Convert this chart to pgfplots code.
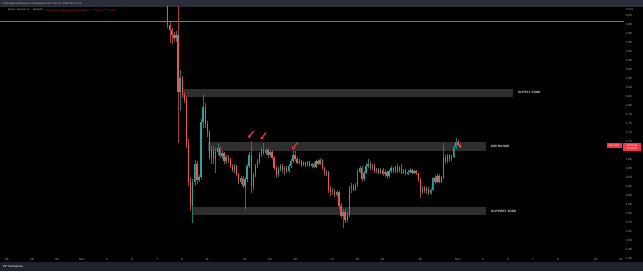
\documentclass[border=0pt]{standalone}
\usepackage{pgfplots}
\pgfplotsset{compat=1.18}
\usepackage{pgfplotstable}
\usepackage{fontspec}
\setmainfont{Liberation Sans}
\usetikzlibrary{arrows.meta}
\definecolor{upc}{HTML}{26A69A}
\definecolor{dnc}{HTML}{EF5350}
\definecolor{upw}{HTML}{1D7A71}
\definecolor{dnw}{HTML}{A53E3C}
\definecolor{zone}{HTML}{2E2E2E}
\definecolor{axtxt}{HTML}{B2B5BE}
\definecolor{hdr}{HTML}{2A2E39}
\definecolor{ftr}{HTML}{1E222D}
\definecolor{tagred}{HTML}{F23645}
\definecolor{hline}{HTML}{787B86}

\pgfplotstableread{
t O H L C
7.833 20250 20400 19720 19780
8.000 19780 19840 19380 19670
8.167 19670 19720 19350 19560
8.333 19560 19620 19420 19490
8.500 19490 19650 19400 19560
8.667 19560 20700 17160 18290
8.833 18290 18780 17860 18600
9.000 18600 18650 18150 18220
9.167 18220 18300 18050 18110
9.333 18110 18200 17050 17110
9.500 17110 17250 16200 16290
9.667 16290 16400 15650 15760
9.833 15760 16350 15380 16290
10.000 16290 16780 16200 16700
10.167 16700 16760 16250 16330
10.333 16330 16450 16280 16400
10.500 16400 17700 16350 17620
10.667 17620 18240 17500 17960
10.833 17960 18050 17500 17580
11.000 17580 17650 17300 17400
11.167 17400 17450 16800 16850
11.333 16850 17100 16700 17000
11.500 17000 17100 16700 16800
11.667 16800 17050 16500 16950
11.833 16950 17150 16900 17050
12.000 17050 17100 16820 16870
12.167 16870 16980 16800 16930
12.333 16930 16960 16700 16760
12.500 16760 16900 16700 16850
12.667 16850 16880 16720 16780
12.833 16780 16830 16600 16650
13.000 16650 16700 16520 16560
13.167 16560 16700 16500 16640
13.333 16640 16660 16420 16460
13.500 16460 16500 16250 16300
13.667 16300 16420 16240 16380
13.833 16380 16420 16150 16200
14.000 16200 16400 15670 16350
14.167 16350 16700 16300 16650
14.333 16650 16950 16600 16900
14.500 16900 17190 16050 16200
14.667 16200 16500 16120 16450
14.833 16450 16700 16400 16650
15.000 16650 16800 16600 16760
15.167 16760 16950 16700 16920
15.333 16920 17050 16850 17000
15.500 17000 17160 16880 16930
15.667 16930 17050 16880 17010
15.833 17010 17050 16820 16880
16.000 16880 17000 16850 16960
16.167 16960 16990 16800 16830
16.333 16830 16860 16550 16600
16.500 16600 16650 16380 16440
16.667 16440 16620 16400 16580
16.833 16580 16700 16540 16650
17.000 16650 16700 16500 16560
17.167 16560 16640 16450 16600
17.333 16600 16650 16480 16540
17.500 16540 16680 16500 16640
17.667 16640 16800 16600 16760
17.833 16760 17000 16720 16900
18.000 16900 16980 16750 16800
18.167 16800 16840 16680 16720
18.333 16720 16800 16680 16760
18.500 16760 16780 16620 16660
18.667 16660 16760 16640 16720
18.833 16720 16740 16620 16680
19.000 16680 16760 16640 16730
19.167 16730 16760 16620 16650
19.333 16650 16720 16600 16700
19.500 16700 16740 16600 16630
19.667 16630 16780 16610 16750
19.833 16750 16800 16660 16700
20.000 16700 16820 16660 16770
20.167 16770 16790 16560 16600
20.333 16600 16630 16430 16480
20.500 16480 16560 16420 16520
20.667 16520 16540 16050 16120
20.833 16120 16200 15980 16060
21.000 16060 16150 15990 16100
21.167 16100 16130 15950 15990
21.333 15990 16120 15960 16060
21.500 16060 16080 15700 15760
21.667 15760 15820 15480 15540
21.833 15540 15700 15270 15620
22.000 15620 15680 15380 15450
22.167 15450 15620 15400 15560
22.333 15560 16200 15520 16150
22.500 16150 16260 16050 16210
22.667 16210 16240 16080 16120
22.833 16120 16260 16080 16220
23.000 16220 16580 16180 16520
23.167 16520 16650 16480 16600
23.333 16600 16640 16300 16360
23.500 16360 16540 16320 16500
23.667 16500 16720 16460 16650
23.833 16650 16790 16600 16700
24.000 16700 16760 16560 16600
24.167 16600 16680 16560 16650
24.333 16650 16680 16500 16540
24.500 16540 16600 16480 16570
24.667 16570 16600 16460 16500
24.833 16500 16600 16470 16560
25.000 16560 16600 16420 16460
25.167 16460 16560 16400 16520
25.333 16520 16540 16360 16420
25.500 16420 16560 16380 16530
25.667 16530 16640 16500 16600
25.833 16600 16620 16490 16530
26.000 16530 16650 16500 16620
26.167 16620 16680 16500 16540
26.333 16540 16640 16510 16600
26.500 16600 16700 16460 16500
26.667 16500 16580 16470 16550
26.833 16550 16570 16440 16480
27.000 16480 16560 16450 16520
27.167 16520 16600 16490 16560
27.333 16560 16580 16460 16500
27.500 16500 16560 16470 16530
27.667 16530 16550 16450 16480
27.833 16480 16500 16300 16350
28.000 16350 16380 15930 16070
28.167 16070 16200 16030 16160
28.333 16160 16190 16040 16080
28.500 16080 16180 16020 16140
28.667 16140 16170 16000 16050
28.833 16050 16160 16000 16120
29.000 16120 16400 16100 16370
29.167 16370 16450 16250 16300
29.333 16300 16460 16270 16420
29.500 16420 16460 16260 16290
29.667 16290 16420 16260 16380
29.833 16380 17150 16350 16820
30.000 16820 16900 16700 16760
30.167 16760 16920 16720 16880
30.333 16880 16910 16740 16800
30.500 16800 16900 16760 16850
30.667 16850 17120 16820 17070
30.833 17070 17270 17030 17180
31.000 17180 17220 17080 17120
31.167 17120 17160 17040 17070
}\candles

\begin{document}
\begin{tikzpicture}[x=1pt,y=1pt]
\useasboundingbox (0,0) rectangle (643,271);
\fill[black] (0,0) rectangle (643,271);
\fill[hdr] (0,264) rectangle (643,271);
\fill[ftr] (0,0) rectangle (643,9);
\begin{axis}[
  at={(0pt,9pt)}, anchor=south west,
  scale only axis, width=624pt, height=255pt,
  xmin=-5.544, xmax=44.256, ymin=14511.1, ymax=20177.8,
  axis line style={draw=none},
  tick style={draw=none},
  major tick length=0pt,
  xtick={-5,-3,-1,1,3,5,7,9,11,14,16,18,21,23,25,28,31,33,35,37,39,42,44},
  xticklabels={26,28,30,Nov,3,5,7,9,11,14,16,18,21,23,25,28,Dec,3,5,7,9,12,14},
  ytick={14600,14800,...,20000},
  yticklabel pos=right,
  /pgf/number format/fixed,
  /pgf/number format/fixed zerofill,
  /pgf/number format/precision=2,
  /pgf/number format/1000 sep={},
  /pgf/number format/assume math mode=true,
  xticklabel style={anchor=south, inner sep=0pt, yshift=1.5pt, font=\fontsize{3.1}{3.5}\selectfont, text=axtxt},
  yticklabel style={anchor=west, inner sep=0pt, xshift=1.7pt, font=\fontsize{3.1}{3.5}\selectfont, text=axtxt},
]
% zones
\addplot[fill=zone, draw=none, forget plot] coordinates {(9.06,18180) (35.4,18180) (35.4,18360) (9.06,18360)};
\addplot[fill=zone, draw=none, forget plot] coordinates {(11.06,16980) (33.24,16980) (33.24,17180) (11.06,17180)};
\addplot[fill=zone, draw=none, forget plot] coordinates {(9.78,15555) (33.24,15555) (33.24,15735) (9.78,15735)};
% horizontal level
\addplot[hline, line width=0.5pt, forget plot] coordinates {(-5.544,19865) (44.256,19865)};
% wicks
\addplot[draw=none, mark=none, forget plot,
  error bars/.cd, y dir=both, y explicit, error mark=none, error bar style={draw=upw, line width=0.4pt}]
  table[x=t, y expr={\thisrow{C}>=\thisrow{O} ? (\thisrow{H}+\thisrow{L})/2 : nan}, y error expr={(\thisrow{H}-\thisrow{L})/2}] {\candles};
\addplot[draw=none, mark=none, forget plot,
  error bars/.cd, y dir=both, y explicit, error mark=none, error bar style={draw=dnw, line width=0.4pt}]
  table[x=t, y expr={\thisrow{C}<\thisrow{O} ? (\thisrow{H}+\thisrow{L})/2 : nan}, y error expr={(\thisrow{H}-\thisrow{L})/2}] {\candles};
% bodies
\addplot[draw=none, mark=none, forget plot,
  error bars/.cd, y dir=both, y explicit, error mark=none, error bar style={draw=upc, line width=1.3pt}]
  table[x=t, y expr={\thisrow{C}>=\thisrow{O} ? (\thisrow{O}+\thisrow{C})/2 : nan}, y error expr={max(abs(\thisrow{C}-\thisrow{O})/2,12)}] {\candles};
\addplot[draw=none, mark=none, forget plot,
  error bars/.cd, y dir=both, y explicit, error mark=none, error bar style={draw=dnc, line width=1.3pt}]
  table[x=t, y expr={\thisrow{C}<\thisrow{O} ? (\thisrow{O}+\thisrow{C})/2 : nan}, y error expr={max(abs(\thisrow{C}-\thisrow{O})/2,12)}] {\candles};
% zone labels
\node[anchor=west, inner sep=0pt, font=\fontsize{3.2}{3.6}\selectfont\bfseries, text=white!85!black] at (axis cs:35.8,18270) {SUPPLY ZONE};
\node[anchor=west, inner sep=0pt, font=\fontsize{3.2}{3.6}\selectfont\bfseries, text=white!85!black] at (axis cs:33.64,17078) {MID RANGE};
\node[anchor=west, inner sep=0pt, font=\fontsize{3.2}{3.6}\selectfont\bfseries, text=white!85!black] at (axis cs:33.64,15645) {SUPPORT ZONE};
% arrow marks
\draw[tagred, line width=1.1pt, -{Triangle[length=2.4pt,width=3.2pt]}] (axis cs:14.69,17420) -- (axis cs:14.27,17270);
\draw[tagred, line width=1.1pt, -{Triangle[length=2.4pt,width=3.2pt]}] (axis cs:15.68,17385) -- (axis cs:15.26,17235);
\draw[tagred, line width=1.1pt, -{Triangle[length=2.4pt,width=3.2pt]}] (axis cs:18.20,17165) -- (axis cs:17.78,17015);
\end{axis}
% header and legend
\node[anchor=west, inner sep=0pt, font=\fontsize{2.6}{3}\selectfont, text=axtxt] at (2,267.5) {CryptoDays published on TradingView.com, Dec 01, 2022 09:11 UTC};
\node[anchor=west, inner sep=0pt, font=\fontsize{2.2}{3}\selectfont, text=white!85!black] at (8,261) {Bitcoin / TetherUS, 4h};
\node[anchor=west, inner sep=0pt, font=\fontsize{2.2}{3}\selectfont, text=white!85!black] at (33,261) {BINANCE};
\node[anchor=west, inner sep=0pt, font=\fontsize{2.2}{3}\selectfont, text=tagred] at (45,261) {O17118.74 H17160.00 L17041.01 C17067.63 \ \ $-$51.11 ($-$0.30\%)};
\node[anchor=west, inner sep=0pt, font=\fontsize{2.6}{3}\selectfont, text=axtxt] at (626,261) {USDT};
% price tags
\fill[tagred] (606.7,123.3) rectangle (621.7,127.7);
\node[inner sep=0pt, font=\fontsize{2.3}{2.6}\selectfont, text=white] at (614.2,125.5) {BTCUSDT};
\fill[tagred] (622.7,120.3) rectangle (641,128.3);
\node[inner sep=0pt, font=\fontsize{2.6}{2.9}\selectfont, text=white, align=center] at (631.85,124.3) {17070.00\\02:48:52};
% footer
\node[anchor=west, inner sep=0pt, font=\fontsize{2.8}{3}\selectfont, text=white] at (3,4.5) {\textbf{TV} TradingView};
\end{tikzpicture}
\end{document}
